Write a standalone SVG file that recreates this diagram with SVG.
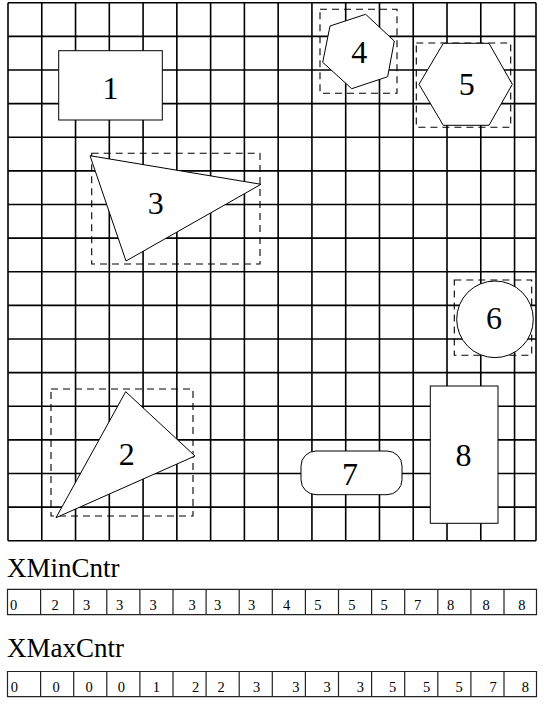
<svg xmlns="http://www.w3.org/2000/svg" width="544" height="712" viewBox="0 0 544 712">
<style>
.grid{fill:none;stroke:#000;stroke-width:1.6}
.shape{fill:#fff;stroke:#000;stroke-width:1}
.bbox{fill:none;stroke:#000;stroke-width:1.1;stroke-dasharray:7,5}
.lbl{font-family:"Liberation Serif","Times New Roman",serif;font-size:32px;fill:#000;text-anchor:middle}
.title{font-family:"Liberation Serif","Times New Roman",serif;font-size:27px;fill:#000}
.cell{fill:none;stroke:#222;stroke-width:1.2}
.num{font-family:"Liberation Serif","Times New Roman",serif;font-size:14.5px;fill:#000;text-anchor:middle}
</style>
<rect width="544" height="712" fill="#fff"/>
<g id="grid">
<path class="grid" d="M8,2.7V540.7M41.77,2.7V540.7M75.54,2.7V540.7M109.31,2.7V540.7M143.08,2.7V540.7M176.85,2.7V540.7M210.62,2.7V540.7M244.39,2.7V540.7M278.16,2.7V540.7M311.93,2.7V540.7M345.7,2.7V540.7M379.47,2.7V540.7M413.24,2.7V540.7M447.01,2.7V540.7M480.78,2.7V540.7M514.55,2.7V540.7M536,2.7V540.7
M8,2.7H536M8,36.33H536M8,69.95H536M8,103.58H536M8,137.2H536M8,170.83H536M8,204.45H536M8,238.08H536M8,271.7H536M8,305.33H536M8,338.95H536M8,372.58H536M8,406.2H536M8,439.83H536M8,473.45H536M8,507.08H536M8,540.7H536"/>
</g>
<g id="connectors"></g>
<g id="node1">
<rect class="shape" x="58.7" y="50.7" width="103.6" height="69.3"/>
<text class="lbl" x="110.5" y="99.3">1</text>
</g>
<g id="node4">
<rect class="bbox" x="320" y="9.3" width="77" height="84"/>
<polygon class="shape" points="330,26 365.7,14.3 394.3,41 387.7,76.7 351.7,88.7 322.7,62.3"/>
<text class="lbl" x="359.3" y="62.7">4</text>
</g>
<g id="node5">
<rect class="bbox" x="416.3" y="43" width="94.4" height="84.3"/>
<polygon class="shape" points="443.3,43.3 489,43.3 512.3,84.3 489,125.3 443.3,125.3 419,84.3"/>
<text class="lbl" x="466.7" y="95">5</text>
</g>
<g id="node3">
<rect class="bbox" x="91.7" y="153.3" width="168.3" height="110.7"/>
<polygon class="shape" points="90,155.7 261,184.3 126,261"/>
<text class="lbl" x="155.7" y="214">3</text>
</g>
<g id="node6">
<rect class="bbox" x="454.3" y="280" width="77.4" height="75.3"/>
<circle class="shape" cx="495" cy="319.3" r="38.3"/>
<text class="lbl" x="494" y="329.3">6</text>
</g>
<g id="node2">
<rect class="bbox" x="51" y="389" width="142" height="127"/>
<polygon class="shape" points="125.7,391.7 195,456 56,517.7"/>
<text class="lbl" x="126.7" y="465">2</text>
</g>
<g id="node7">
<rect class="shape" x="301" y="451" width="101" height="43.7" rx="15" ry="15"/>
<text class="lbl" x="350" y="485.3">7</text>
</g>
<g id="node8">
<rect class="shape" x="430.3" y="386" width="67.7" height="137.3"/>
<text class="lbl" x="463.5" y="466">8</text>
</g>
<g id="table-xmin">
<text class="title" x="7" y="577.2">XMinCntr</text>
<path class="cell" d="M7.5,589.4H536.5V614.6H7.5ZM40.6,589.4V614.6M73.7,589.4V614.6M106.8,589.4V614.6M139.9,589.4V614.6M173,589.4V614.6M206.1,589.4V614.6M239.2,589.4V614.6M272.3,589.4V614.6M305.4,589.4V614.6M338.5,589.4V614.6M371.6,589.4V614.6M404.7,589.4V614.6M437.8,589.4V614.6M470.9,589.4V614.6M504,589.4V614.6"/>
<text class="num" x="13.6" y="610.2">0</text>
<text class="num" x="55.1" y="610.2">2</text>
<text class="num" x="86.7" y="610.2">3</text>
<text class="num" x="119.7" y="610.2">3</text>
<text class="num" x="153" y="610.2">3</text>
<text class="num" x="192.1" y="610.2">3</text>
<text class="num" x="217.6" y="610.2">3</text>
<text class="num" x="251.6" y="610.2">3</text>
<text class="num" x="286.6" y="610.2">4</text>
<text class="num" x="317.9" y="610.2">5</text>
<text class="num" x="351.9" y="610.2">5</text>
<text class="num" x="384.2" y="610.2">5</text>
<text class="num" x="417.5" y="610.2">7</text>
<text class="num" x="450.5" y="610.2">8</text>
<text class="num" x="486.2" y="610.2">8</text>
<text class="num" x="521.9" y="610.2">8</text>
</g>
<g id="table-xmax">
<text class="title" x="7" y="657.2">XMaxCntr</text>
<path class="cell" d="M7.5,671.5H536.5V696.6H7.5ZM40.6,671.5V696.6M73.7,671.5V696.6M106.8,671.5V696.6M139.9,671.5V696.6M173,671.5V696.6M206.1,671.5V696.6M239.2,671.5V696.6M272.3,671.5V696.6M305.4,671.5V696.6M338.5,671.5V696.6M371.6,671.5V696.6M404.7,671.5V696.6M437.8,671.5V696.6M470.9,671.5V696.6M504,671.5V696.6"/>
<text class="num" x="14.3" y="692.2">0</text>
<text class="num" x="56.1" y="692.2">0</text>
<text class="num" x="89.1" y="692.2">0</text>
<text class="num" x="121.4" y="692.2">0</text>
<text class="num" x="156.4" y="692.2">1</text>
<text class="num" x="195.5" y="692.2">2</text>
<text class="num" x="221" y="692.2">2</text>
<text class="num" x="256.7" y="692.2">3</text>
<text class="num" x="295.8" y="692.2">3</text>
<text class="num" x="327.1" y="692.2">3</text>
<text class="num" x="360.4" y="692.2">3</text>
<text class="num" x="392.7" y="692.2">5</text>
<text class="num" x="426.7" y="692.2">5</text>
<text class="num" x="459" y="692.2">5</text>
<text class="num" x="493" y="692.2">7</text>
<text class="num" x="525.3" y="692.2">8</text>
</g>
</svg>
